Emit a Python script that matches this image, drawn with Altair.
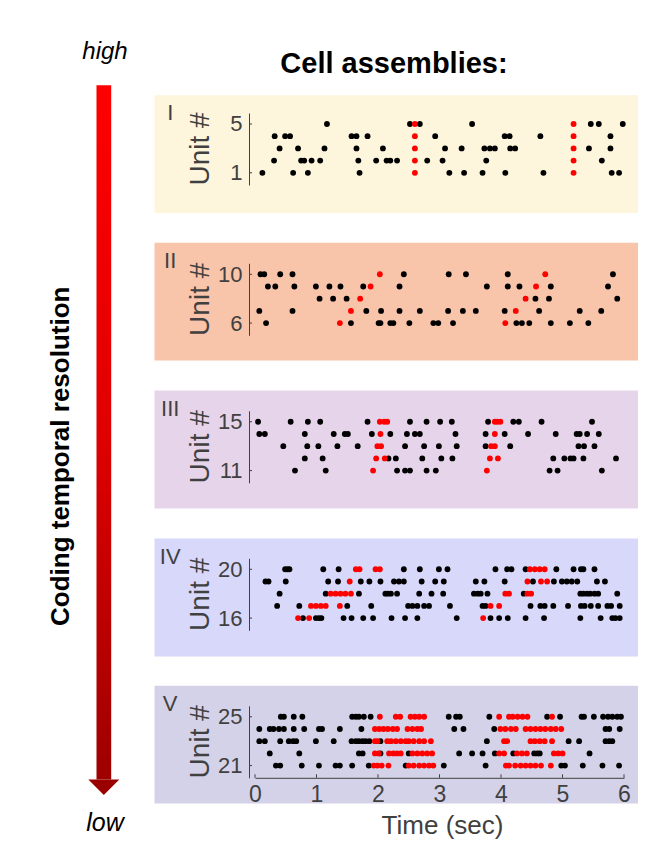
import altair as alt
import pandas as pd

# ---------------- data ----------------
TIME_TICKS = [0, 1, 2, 3, 4, 5, 6]
PANEL_NAMES = ["I", "II", "III", "IV", "V"]
PANEL_UNITS = [[1, 5], [6, 10], [11, 15], [16, 20], [21, 25]]
PANEL_COLORS = ["#FDF5DC", "#F8C4AA", "#E6D5EA", "#D8D8FA", "#D4D2E8"]

I_BLACK = {
    5: [1.17, 2.52, 2.68, 3.53, 5.46, 5.59, 5.98],
    4: [0.32, 0.49, 0.57, 1.57, 1.65, 1.83, 2.93, 4.06, 4.14, 4.64, 5.78],
    3: [0.40, 0.70, 1.13, 1.65, 2.08, 3.09, 3.36, 3.73, 3.82, 3.90, 4.15, 4.23, 5.43, 5.78],
    2: [0.31, 0.75, 0.80, 0.92, 1.06, 1.68, 1.97, 2.14, 2.20, 2.31, 2.80, 3.05, 3.76, 5.64],
    1: [0.12, 0.62, 0.86, 1.70, 3.16, 3.40, 3.70, 4.07, 4.69, 5.80, 5.92],
}
I_RED = {5: [2.60, 5.18], 4: [2.60, 5.18], 3: [2.60, 5.18], 2: [2.60, 5.18], 1: [2.60, 5.18]}

II_BLACK = {
    10: [0.09, 0.15, 0.41, 0.61, 2.42, 3.15, 3.43, 4.11, 5.82],
    9: [0.21, 0.33, 0.64, 0.99, 1.21, 1.39, 1.76, 2.35, 3.77, 4.11, 4.30, 4.81, 5.74],
    8: [1.05, 1.27, 1.49, 4.56, 4.78, 5.89],
    7: [0.07, 0.61, 1.81, 2.05, 2.35, 2.68, 3.14, 3.38, 3.59, 4.06, 4.62, 5.28, 5.63],
    6: [0.18, 1.56, 2.01, 2.04, 2.20, 2.25, 2.51, 2.90, 2.98, 3.22, 4.25, 4.34, 4.46, 4.81, 5.12, 5.42],
}
II_RED = {6: [1.38, 4.07], 7: [1.56, 4.24], 8: [1.71, 4.40], 9: [1.88, 4.57], 10: [2.03, 4.72]}

III_BLACK = {
    15: [0.05, 0.58, 0.86, 1.06, 1.83, 2.52, 2.79, 3.01, 3.20, 3.79, 4.20, 4.29, 4.66, 5.48],
    14: [0.07, 0.16, 0.81, 1.28, 1.46, 1.51, 1.90, 2.20, 2.47, 2.60, 2.68, 3.26, 3.75, 4.06, 4.44,
         4.89, 5.23, 5.28, 5.40, 5.59],
    13: [0.46, 0.85, 1.03, 1.34, 1.67, 2.44, 2.75, 2.99, 3.28, 3.75, 4.15, 5.26, 5.35, 5.52],
    12: [0.81, 1.10, 2.17, 2.29, 2.72, 3.03, 3.21, 4.85, 5.03, 5.13, 5.18, 5.34, 5.87],
    11: [0.65, 1.15, 2.31, 2.44, 2.52, 2.79, 2.94, 4.79, 4.92, 5.64],
}
III_RED = {
    15: [2.03, 2.10, 2.15, 3.90, 3.94, 3.99],
    14: [2.04, 3.90],
    13: [1.99, 2.05, 3.84, 3.90],
    12: [1.97, 2.11, 3.82, 3.95],
    11: [1.92, 3.77],
}

IV_BLACK = {
    20: [0.49, 0.53, 0.56, 1.11, 1.36, 2.42, 2.68, 2.99, 3.13, 3.91, 4.10, 4.17, 4.40, 4.90, 5.18,
         5.30, 5.34, 5.52],
    19: [0.17, 0.22, 0.50, 1.19, 1.35, 1.72, 1.86, 2.04, 2.26, 2.34, 2.42, 2.71, 2.93, 3.07, 3.59,
         3.73, 4.06, 4.52, 4.86, 4.99, 5.07, 5.15, 5.24, 5.56, 5.69],
    18: [0.40, 1.15, 1.69, 2.12, 2.16, 2.21, 2.31, 2.67, 2.87, 3.06, 3.56, 3.62, 3.67, 3.78, 4.37,
         5.29, 5.34, 5.40, 5.45, 5.52, 5.58, 5.89],
    17: [0.36, 0.72, 1.50, 1.89, 2.49, 2.56, 2.64, 2.75, 2.83, 3.17, 3.70, 3.75, 4.48, 4.64, 4.71,
         4.85, 5.09, 5.30, 5.36, 5.46, 5.58, 5.73, 5.79, 5.93],
    16: [0.78, 0.99, 1.04, 1.08, 1.44, 1.57, 1.76, 1.92, 2.22, 2.44, 2.64, 3.28, 3.83, 3.97, 4.11,
         4.40, 4.70, 5.29, 5.62, 5.81, 5.86, 5.93],
}
IV_RED = {
    20: [1.64, 1.70, 1.96, 2.03, 4.47, 4.55, 4.63, 4.71],
    19: [1.54, 4.43, 4.65, 4.75],
    18: [1.23, 1.31, 1.39, 1.47, 1.56, 4.07, 4.13, 4.43, 4.49],
    17: [0.91, 0.99, 1.07, 1.15, 1.38, 3.83, 3.97],
    16: [0.70, 0.88, 3.71],
}

V_BLACK = {
    25: [0.42, 0.47, 0.63, 0.77, 1.58, 1.64, 1.69, 1.77, 1.88, 3.15, 3.27, 3.33, 3.81, 4.75, 4.96,
         5.31, 5.35, 5.51, 5.66, 5.74, 5.81, 5.89, 5.95],
    24: [0.07, 0.24, 0.30, 0.39, 0.47, 0.63, 0.80, 1.04, 1.09, 1.38, 1.73, 3.24, 3.39, 3.89, 5.70,
         5.76, 5.93],
    23: [0.07, 0.16, 0.41, 0.55, 0.62, 0.67, 0.99, 1.28, 1.57, 1.64, 1.69, 1.75, 1.80, 1.86, 2.04,
         3.77, 5.10, 5.27, 5.70, 5.76, 5.81],
    22: [0.24, 0.72, 1.69, 1.75, 2.04, 2.50, 3.32, 3.53, 3.70, 3.90, 4.20, 4.54, 4.59, 4.63, 5.44],
    21: [0.34, 0.41, 0.76, 1.04, 1.31, 1.38, 1.58, 1.85, 2.45, 3.07, 3.75, 4.98, 5.04, 5.33, 5.65,
         5.92],
}
V_RED = {
    25: [2.03, 2.29, 2.36, 2.53, 2.60, 2.67, 2.75, 3.97, 4.13, 4.19, 4.27, 4.35, 4.43, 4.83],
    24: [1.95, 2.02, 2.09, 2.16, 2.24, 2.31, 2.48, 2.56, 2.64, 2.70, 3.99, 4.07, 4.16, 4.24, 4.40,
         4.48, 4.56, 4.64, 4.72, 4.81, 4.89, 4.98],
    23: [1.95, 1.99, 2.15, 2.21, 2.29, 2.37, 2.45, 2.50, 2.58, 2.67, 2.75, 2.86, 4.05, 4.10, 4.48,
         4.55, 4.63, 4.71, 4.83],
    22: [1.95, 2.01, 2.18, 2.25, 2.31, 2.37, 2.56, 2.64, 2.72, 2.80, 2.88, 3.97, 4.05, 4.26, 4.34,
         4.42, 4.86, 4.93, 5.00],
    21: [1.93, 1.99, 2.06, 2.17, 2.50, 2.58, 2.67, 2.75, 2.83, 2.90, 4.08, 4.13, 4.23, 4.32, 4.40,
         4.48, 4.56, 4.65, 4.81],
}

BLACK = [I_BLACK, II_BLACK, III_BLACK, IV_BLACK, V_BLACK]
RED = [I_RED, II_RED, III_RED, IV_RED, V_RED]

# ---------------- layout / style ----------------
FONT = "Liberation Sans"
GRAY = "#404040"
W = 369
H = 72
BG_TOP = [-17.7, -20.5, -20.2, -19.7, -20.0]
ONE = pd.DataFrame({"k": [0]})


def dots_frame(black, red):
    rows = []
    for kind, table in (("black", black), ("red", red)):
        for unit, times in table.items():
            for t in times:
                rows.append({"time": t, "unit": unit, "kind": kind})
    return pd.DataFrame(rows)


def panel(k):
    lo, hi = PANEL_UNITS[k]
    xs = alt.Scale(domain=[0, 6], nice=False, zero=False)
    ys = alt.Scale(domain=[lo - 1, hi + 0.9], nice=False, zero=False)
    yaxis = alt.Axis(values=[lo, hi], title=None, ticks=False, tickSize=0, grid=False,
                     domainColor=GRAY, domainWidth=1, labelColor=GRAY, labelFont=FONT,
                     labelFontSize=22, labelPadding=7, offset=6, zindex=1)
    if k == 4:
        xaxis = alt.Axis(values=TIME_TICKS, title=None, ticks=False, tickSize=0, grid=False,
                         domainColor=GRAY, domainWidth=1, labelColor=GRAY, labelFont=FONT,
                         labelFontSize=23, labelPadding=6, format="d", labelFlush=False, zindex=1)
    else:
        xaxis = None

    bt = BG_TOP[k]
    bg = alt.Chart(ONE).mark_rect(fill=PANEL_COLORS[k]).encode(
        x=alt.value(-100.5), x2=alt.value(383), y=alt.value(bt), y2=alt.value(bt + 117.8))
    numeral = alt.Chart(ONE).mark_text(
        text=PANEL_NAMES[k], font=FONT, fontSize=22, color=GRAY, align="center",
        baseline="alphabetic").encode(x=alt.value(-84.8), y=alt.value(bt + 25))
    unit_title = alt.Chart(ONE).mark_text(
        text="Unit #", font=FONT, fontSize=28, color=GRAY, angle=270, align="center",
        baseline="middle").encode(x=alt.value(-54), y=alt.value(H / 2))
    yticks = alt.Chart(pd.DataFrame({"unit": [lo, hi]})).mark_rule(color=GRAY, strokeWidth=1).encode(
        x=alt.value(-6), x2=alt.value(-3), y=alt.Y("unit:Q", scale=ys, axis=yaxis))
    df = dots_frame(BLACK[k], RED[k])
    pts = alt.Chart(df).mark_circle(size=34, opacity=1).encode(
        x=alt.X("time:Q", scale=xs, axis=xaxis),
        y=alt.Y("unit:Q", scale=ys, axis=yaxis),
        color=alt.Color("kind:N", scale=alt.Scale(domain=["black", "red"],
                                                  range=["#000000", "#FF0000"]), legend=None))
    layers = [bg, numeral, unit_title, yticks]

    if k == 4:
        xticks = alt.Chart(pd.DataFrame({"time": TIME_TICKS})).mark_rule(
            color=GRAY, strokeWidth=1).encode(
            x=alt.X("time:Q", scale=xs, axis=xaxis), y=alt.value(H), y2=alt.value(H - 3.5))
        xtitle = alt.Chart(ONE).mark_text(
            text="Time (sec)", font=FONT, fontSize=26, color=GRAY, align="center",
            baseline="alphabetic").encode(x=alt.value(187.5), y=alt.value(128))
        layers += [xticks, xtitle]

    if k == 0:
        anchor = alt.Chart(ONE).mark_rect(opacity=0).encode(
            x=alt.value(-246.3), x2=alt.value(-245.3), y=alt.value(-103.7), y2=alt.value(-102.7))
        title = alt.Chart(ONE).mark_text(
            text="Cell assemblies:", font=FONT, fontSize=29, fontWeight="bold", color="#000000",
            align="center", baseline="alphabetic").encode(x=alt.value(139), y=alt.value(-40))
        grad = alt.Gradient(gradient="linear", x1=0, x2=0, y1=0, y2=1,
                            stops=[alt.GradientStop(color="#FF0000", offset=0),
                                   alt.GradientStop(color="#E00000", offset=0.5),
                                   alt.GradientStop(color="#9E0000", offset=1)])
        bar = alt.Chart(ONE).mark_rect(fill=grad).encode(
            x=alt.value(-158.5), x2=alt.value(-143.8), y=alt.value(-27.7), y2=alt.value(666.5))
        head = alt.Chart(ONE).mark_point(
            shape="M-1,-0.5L1,-0.5L0,0.5Z", size=961, filled=True, fill="#9A0000",
            opacity=1, strokeWidth=0).encode(x=alt.value(-151.2), y=alt.value(674.3))
        high = alt.Chart(ONE).mark_text(
            text="high", font=FONT, fontSize=24, fontStyle="italic", color="#000000",
            align="center", baseline="alphabetic").encode(x=alt.value(-150), y=alt.value(-54))
        low = alt.Chart(ONE).mark_text(
            text="low", font=FONT, fontSize=25, fontStyle="italic", color="#000000",
            align="center", baseline="alphabetic").encode(x=alt.value(-150), y=alt.value(718))
        side = alt.Chart(ONE).mark_text(
            text="Coding temporal resolution", font=FONT, fontSize=26, fontWeight="bold",
            color="#000000", angle=270, align="center", baseline="middle").encode(
            x=alt.value(-194.3), y=alt.value(343.3))
        layers = [anchor] + layers + [title, bar, head, high, low, side]

    layers.append(pts)
    return alt.layer(*layers).properties(width=W, height=H)


panels = [panel(k) for k in range(5)]
inner = alt.vconcat(*panels[1:], spacing=75.5, bounds="flush")
chart = alt.vconcat(panels[0], inner, spacing=78.3, bounds="flush").properties(
    padding=0).configure_view(stroke="transparent")

chart.save("out.html", embed_options={"renderer": "svg", "actions": False})
